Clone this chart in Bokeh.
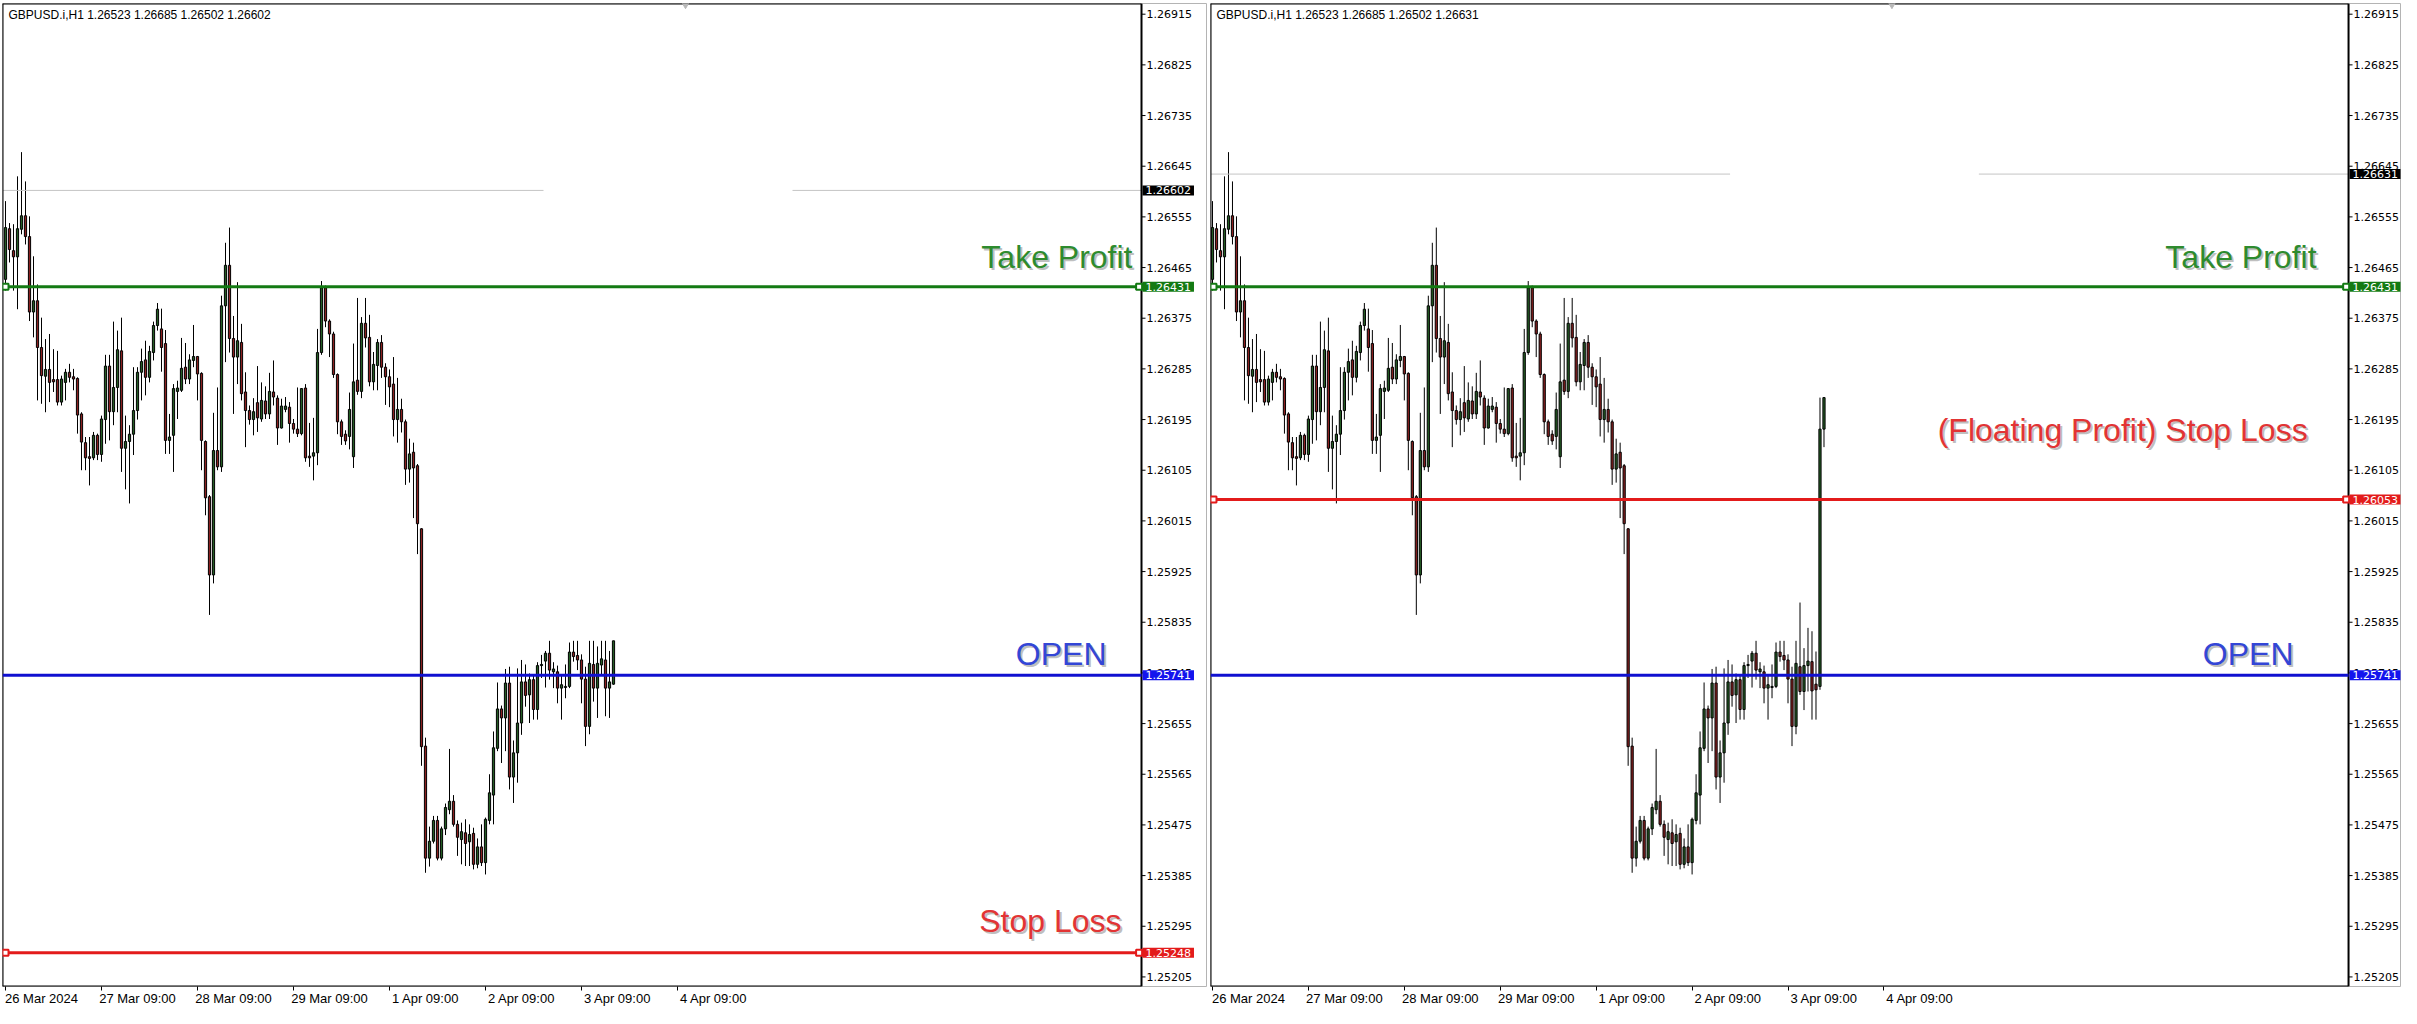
from bokeh.plotting import figure
from bokeh.models import (ColumnDataSource, FixedTicker, Label, Range1d, LinearAxis,
                          PrintfTickFormatter)
from bokeh.layouts import row
from bokeh.embed import file_html
from bokeh.resources import INLINE

# ---------------- data ----------------
symbol = "GBPUSD.i,H1"
header_left = ["1.26523", "1.26685", "1.26502", "1.26602"]
header_right = ["1.26523", "1.26685", "1.26502", "1.26631"]

x_tick_bars = [0, 24, 48, 72, 96, 120, 144, 168]
x_tick_labels = ["26 Mar 2024", "27 Mar 09:00", "28 Mar 09:00", "29 Mar 09:00",
                 "1 Apr 09:00", "2 Apr 09:00", "3 Apr 09:00", "4 Apr 09:00"]

y_ticks = [1.26915, 1.26825, 1.26735, 1.26645, 1.26555, 1.26465, 1.26375, 1.26285,
           1.26195, 1.26105, 1.26015, 1.25925, 1.25835, 1.25745, 1.25655, 1.25565,
           1.25475, 1.25385, 1.25295, 1.25205]

take_profit = 1.26431
open_price = 1.25741
stop_loss_left = 1.25248
stop_loss_right = 1.26053
bid_left = 1.26602
bid_right = 1.26631

open_ = [
    1.26444, 1.26534, 1.26495, 1.26484, 1.26533, 1.26557, 1.26520, 1.26386, 1.26406, 1.26323,
    1.26272, 1.26284, 1.26266, 1.26266, 1.26226, 1.26261, 1.26279, 1.26271, 1.26268, 1.26205,
    1.26154, 1.26129, 1.26127, 1.26167, 1.26133, 1.26195, 1.26290, 1.26209, 1.26252, 1.26317,
    1.26144, 1.26156, 1.26169, 1.26211, 1.26279, 1.26301, 1.26270, 1.26314, 1.26362, 1.26356,
    1.26330, 1.26158, 1.26167, 1.26245, 1.26247, 1.26288, 1.26267, 1.26300, 1.26307, 1.26277,
    1.26156, 1.26058, 1.25919, 1.26140, 1.26111, 1.26397, 1.26469, 1.26339, 1.26306, 1.26332,
    1.26244, 1.26211, 1.26195, 1.26225, 1.26196, 1.26228, 1.26205, 1.26244, 1.26233, 1.26180,
    1.26213, 1.26217, 1.26188, 1.26178, 1.26170, 1.26251, 1.26130, 1.26130, 1.26136, 1.26314,
    1.26429, 1.26370, 1.26347, 1.26275, 1.26191, 1.26169, 1.26165, 1.26129, 1.26265, 1.26245,
    1.26366, 1.26341, 1.26262, 1.26291, 1.26332, 1.26288, 1.26271, 1.26258, 1.26195, 1.26213,
    1.26191, 1.26107, 1.26137, 1.26113, 1.26001, 1.25615, 1.25416, 1.25446, 1.25483, 1.25416,
    1.25468, 1.25502, 1.25517, 1.25476, 1.25449, 1.25461, 1.25445, 1.25460, 1.25405, 1.25436,
    1.25408, 1.25483, 1.25528, 1.25611, 1.25681, 1.25665, 1.25727, 1.25560, 1.25603, 1.25656,
    1.25729, 1.25706, 1.25733, 1.25680, 1.25758, 1.25766, 1.25780, 1.25747, 1.25747, 1.25718,
    1.25719, 1.25721, 1.25782, 1.25776, 1.25768, 1.25734, 1.25650, 1.25760, 1.25718, 1.25759,
    1.25768, 1.25718, 1.25725]
high = [
    1.26583, 1.26544, 1.26542, 1.26627, 1.26670, 1.26618, 1.26556, 1.26485, 1.26435, 1.26376,
    1.26338, 1.26347, 1.26320, 1.26317, 1.26273, 1.26285, 1.26294, 1.26285, 1.26270, 1.26208,
    1.26164, 1.26164, 1.26173, 1.26170, 1.26202, 1.26310, 1.26310, 1.26369, 1.26353, 1.26376,
    1.26202, 1.26185, 1.26288, 1.26288, 1.26321, 1.26335, 1.26326, 1.26369, 1.26402, 1.26392,
    1.26354, 1.26205, 1.26258, 1.26264, 1.26340, 1.26331, 1.26311, 1.26363, 1.26308, 1.26279,
    1.26158, 1.26061, 1.26207, 1.26252, 1.26415, 1.26509, 1.26536, 1.26379, 1.26439, 1.26365,
    1.26279, 1.26220, 1.26233, 1.26290, 1.26261, 1.26254, 1.26278, 1.26300, 1.26238, 1.26232,
    1.26235, 1.26226, 1.26196, 1.26252, 1.26251, 1.26258, 1.26189, 1.26198, 1.26356, 1.26441,
    1.26433, 1.26373, 1.26351, 1.26277, 1.26195, 1.26176, 1.26243, 1.26330, 1.26411, 1.26377,
    1.26411, 1.26381, 1.26315, 1.26338, 1.26345, 1.26295, 1.26284, 1.26306, 1.26269, 1.26232,
    1.26195, 1.26161, 1.26154, 1.26116, 1.26002, 1.25630, 1.25472, 1.25491, 1.25491, 1.25472,
    1.25513, 1.25610, 1.25528, 1.25483, 1.25479, 1.25485, 1.25476, 1.25470, 1.25451, 1.25476,
    1.25488, 1.25565, 1.25641, 1.25728, 1.25687, 1.25752, 1.25756, 1.25625, 1.25753, 1.25768,
    1.25760, 1.25744, 1.25740, 1.25764, 1.25777, 1.25784, 1.25802, 1.25764, 1.25758, 1.25741,
    1.25760, 1.25799, 1.25802, 1.25802, 1.25778, 1.25756, 1.25802, 1.25802, 1.25792, 1.25802,
    1.25802, 1.25784, 1.25802]
low = [
    1.26424, 1.26474, 1.26424, 1.26391, 1.26524, 1.26506, 1.26370, 1.26341, 1.26229, 1.26223,
    1.26208, 1.26226, 1.26244, 1.26220, 1.26220, 1.26229, 1.26261, 1.26247, 1.26170, 1.26105,
    1.26105, 1.26078, 1.26123, 1.26123, 1.26120, 1.26152, 1.26158, 1.26185, 1.26208, 1.26102,
    1.26071, 1.26046, 1.26132, 1.26195, 1.26229, 1.26238, 1.26261, 1.26300, 1.26353, 1.26280,
    1.26134, 1.26134, 1.26102, 1.26196, 1.26244, 1.26258, 1.26258, 1.26288, 1.26229, 1.26105,
    1.26025, 1.25848, 1.25904, 1.26105, 1.26102, 1.26297, 1.26314, 1.26205, 1.26258, 1.26229,
    1.26146, 1.26186, 1.26167, 1.26173, 1.26191, 1.26196, 1.26196, 1.26220, 1.26150, 1.26179,
    1.26208, 1.26154, 1.26170, 1.26164, 1.26167, 1.26120, 1.26111, 1.26087, 1.26114, 1.26310,
    1.26359, 1.26306, 1.26269, 1.26169, 1.26150, 1.26150, 1.26142, 1.26109, 1.26239, 1.26233,
    1.26323, 1.26254, 1.26247, 1.26247, 1.26269, 1.26221, 1.26217, 1.26165, 1.26154, 1.26172,
    1.26079, 1.26083, 1.26020, 1.25956, 1.25580, 1.25390, 1.25401, 1.25442, 1.25412, 1.25412,
    1.25457, 1.25494, 1.25472, 1.25420, 1.25405, 1.25402, 1.25402, 1.25396, 1.25398, 1.25402,
    1.25387, 1.25476, 1.25476, 1.25606, 1.25585, 1.25606, 1.25538, 1.25514, 1.25550, 1.25635,
    1.25685, 1.25656, 1.25662, 1.25662, 1.25736, 1.25719, 1.25733, 1.25718, 1.25691, 1.25662,
    1.25700, 1.25718, 1.25765, 1.25750, 1.25691, 1.25615, 1.25636, 1.25694, 1.25665, 1.25741,
    1.25668, 1.25665, 1.25724]
close = [
    1.26536, 1.26497, 1.26484, 1.26534, 1.26557, 1.26520, 1.26386, 1.26406, 1.26323, 1.26273,
    1.26284, 1.26261, 1.26262, 1.26226, 1.26267, 1.26279, 1.26270, 1.26267, 1.26203, 1.26155,
    1.26127, 1.26126, 1.26167, 1.26133, 1.26196, 1.26290, 1.26209, 1.26252, 1.26319, 1.26144,
    1.26156, 1.26169, 1.26211, 1.26279, 1.26298, 1.26270, 1.26316, 1.26362, 1.26391, 1.26323,
    1.26158, 1.26164, 1.26250, 1.26251, 1.26286, 1.26267, 1.26301, 1.26307, 1.26276, 1.26158,
    1.26056, 1.25919, 1.26140, 1.26111, 1.26397, 1.26469, 1.26339, 1.26306, 1.26335, 1.26241,
    1.26211, 1.26195, 1.26209, 1.26198, 1.26229, 1.26205, 1.26245, 1.26235, 1.26180, 1.26219,
    1.26219, 1.26188, 1.26178, 1.26170, 1.26250, 1.26127, 1.26127, 1.26136, 1.26314, 1.26429,
    1.26370, 1.26347, 1.26275, 1.26191, 1.26165, 1.26157, 1.26213, 1.26262, 1.26245, 1.26366,
    1.26340, 1.26262, 1.26293, 1.26332, 1.26288, 1.26271, 1.26253, 1.26195, 1.26213, 1.26191,
    1.26107, 1.26134, 1.26109, 1.26010, 1.25614, 1.25416, 1.25446, 1.25483, 1.25416, 1.25468,
    1.25506, 1.25517, 1.25476, 1.25453, 1.25463, 1.25442, 1.25458, 1.25405, 1.25436, 1.25408,
    1.25485, 1.25532, 1.25612, 1.25681, 1.25665, 1.25727, 1.25560, 1.25603, 1.25656, 1.25729,
    1.25705, 1.25733, 1.25680, 1.25758, 1.25760, 1.25780, 1.25750, 1.25752, 1.25718, 1.25724,
    1.25721, 1.25782, 1.25774, 1.25768, 1.25734, 1.25650, 1.25762, 1.25718, 1.25762, 1.25770,
    1.25718, 1.25729, 1.25802]

# right chart: same history, then the later bars including the rally
right_common_bars = 147
right_tail_open = [1.25756, 1.25712, 1.25758, 1.25765, 1.25725, 1.25721, 1.26178]
right_tail_high = [1.25870, 1.25789, 1.25825, 1.25819, 1.25783, 1.26234, 1.26234]
right_tail_low = [1.25706, 1.25679, 1.25712, 1.25662, 1.25662, 1.25715, 1.26146]
right_tail_close = [1.25712, 1.25758, 1.25766, 1.25713, 1.25715, 1.26178, 1.26234]

bid_gap_left = [134.5, 196.75]
bid_gap_right = [129.5, 191.75]
shift_marker_bar = 170

# ---------------- style ----------------
BULL = "#245c24"
BEAR = "#8a2020"
TP_COL = "#137a13"
OPEN_COL = "#1010d0"
SL_COL = "#e31b1b"
Y_START, Y_END = 1.25188, 1.26934
BAR_PX = 4.0
CHART_PX = 1139
LABEL_SHIFT = 9


def make_panel(o, h, l, c, width, border_left, x0, bid, bid_gap, header, sl, texts):
    frame_w = width - border_left
    x1 = x0 + frame_w / BAR_PX
    xc = x0 + CHART_PX / BAR_PX
    p = figure(width=width, height=1008, output_backend="svg", toolbar_location=None,
               x_range=Range1d(x0, x1), y_range=Range1d(Y_START, Y_END),
               y_axis_location="right", min_border_left=border_left,
               min_border_right=0, min_border_top=3, min_border_bottom=20,
               background_fill_color="white", border_fill_color="white")
    p.grid.visible = False
    p.outline_line_color = "#b4b4b4"
    p.outline_line_width = 1

    idx = list(range(len(o)))
    src = ColumnDataSource(dict(
        x=idx, high=h, low=l,
        top=[max(a, b) for a, b in zip(o, c)],
        bottom=[min(a, b) for a, b in zip(o, c)],
        color=[BULL if ci >= oi else BEAR for oi, ci in zip(o, c)]))
    p.segment(x0="x", y0="high", x1="x", y1="low", source=src, line_color="black",
              line_width=1)
    p.vbar(x="x", width=0.55, top="top", bottom="bottom", source=src,
           fill_color="color", line_color="black", line_width=1)

    # bid line (with gap)
    p.segment(x0=[x0, bid_gap[1]], y0=[bid, bid], x1=[bid_gap[0], xc], y1=[bid, bid],
              line_color="#c4c4c4", line_width=1)

    # chart border (the right part of the frame holds the price scale)
    p.segment(x0=[x0, x0, x0, xc], y0=[Y_START, Y_END, Y_START, Y_START],
              x1=[xc, xc, x0, xc], y1=[Y_START, Y_END, Y_END, Y_END],
              line_color="black", line_width=2)
    # price scale tick marks
    p.segment(x0=[xc] * len(y_ticks), y0=y_ticks, x1=[xc + 1] * len(y_ticks), y1=y_ticks,
              line_color="black", line_width=1)

    # shift marker
    p.scatter(x=[shift_marker_bar], y=[Y_END], marker="inverted_triangle", size=9,
              fill_color="#b8b8b8", line_color="#b8b8b8")

    # order levels
    levels = [take_profit, open_price, sl]
    p.segment(x0=[x0] * 3, y0=levels, x1=[xc] * 3, y1=levels,
              line_color=[TP_COL, OPEN_COL, SL_COL], line_width=3)
    # level handles at both ends of TP / SL
    p.scatter(x=[x0 + 0.75, xc - 0.6, x0 + 0.75, xc - 0.6],
              y=[take_profit, take_profit, sl, sl], marker="square", size=6,
              fill_color="white", line_color=[TP_COL, TP_COL, SL_COL, SL_COL],
              line_width=2)

    # price tags on the scale
    for price, col in [(bid, "black"), (take_profit, TP_COL), (open_price, "#1414ee"),
                       (sl, SL_COL)]:
        p.add_layout(Label(x=xc, y=price, x_offset=1, text=f"{price:.5f}",
                           text_align="left", text_baseline="middle",
                           text_color="white", text_font="DejaVu Sans",
                           text_font_size="11px", background_fill_color=col,
                           padding=dict(left=3, right=3, top=1, bottom=1)))

    # header
    p.add_layout(Label(x=x0, y=Y_END, x_offset=6, y_offset=-11,
                       text=symbol + "  " + " ".join(header),
                       text_baseline="middle", text_align="left",
                       text_font="Liberation Sans", text_font_size="12px",
                       text_color="black"))

    # annotation texts (with a soft shadow)
    for txt, price, xo, yo, col in texts:
        p.add_layout(Label(x=xc, y=price, x_offset=xo + 2, y_offset=yo - 2, text=txt,
                           text_align="right", text_baseline="middle",
                           text_font="Liberation Sans", text_font_size="32px",
                           text_color="#808080", text_alpha=0.5))
        p.add_layout(Label(x=xc, y=price, x_offset=xo, y_offset=yo, text=txt,
                           text_align="right", text_baseline="middle",
                           text_font="Liberation Sans", text_font_size="32px",
                           text_color=col))

    ya = p.yaxis[0]
    ya.ticker = FixedTicker(ticks=y_ticks)
    ya.formatter = PrintfTickFormatter(format="%.5f")
    ya.axis_line_color = None
    ya.major_tick_in = 0
    ya.major_tick_out = 0
    ya.minor_tick_line_color = None
    ya.major_tick_line_color = None
    ya.major_label_standoff = -int(frame_w - CHART_PX - 5)
    ya.major_label_text_font = "DejaVu Sans"
    ya.major_label_text_font_size = "11px"
    ya.major_label_text_color = "black"

    # tick marks of the time scale
    xa = p.xaxis[0]
    xa.ticker = FixedTicker(ticks=x_tick_bars)
    xa.major_label_overrides = {b: "" for b in x_tick_bars}
    xa.major_label_text_font_size = "1px"
    xa.major_label_standoff = 0
    xa.axis_line_color = None
    xa.major_tick_in = 0
    xa.major_tick_out = 4
    xa.minor_tick_line_color = None

    # time labels, left-aligned to their tick
    label_pos = [b + LABEL_SHIFT for b in x_tick_bars]
    xb = LinearAxis(ticker=FixedTicker(ticks=label_pos),
                    major_label_overrides={q: t for q, t in zip(label_pos, x_tick_labels)},
                    axis_line_color=None, major_tick_line_color=None,
                    minor_tick_line_color=None, major_tick_in=0, major_tick_out=0,
                    major_label_standoff=0, major_label_text_font="Liberation Sans",
                    major_label_text_font_size="13px", major_label_text_color="black")
    p.add_layout(xb, "below")
    return p


left_texts = [("Take Profit", take_profit, -9, 30, "#2e8b2e"),
              ("OPEN", open_price, -35, 21, "#3346d6"),
              ("Stop Loss", stop_loss_left, -20, 32, "#e23434")]
right_texts = [("Take Profit", take_profit, -32, 30, "#2e8b2e"),
               ("(Floating Profit)  Stop Loss", stop_loss_right, -32, 70, "#e23434"),
               ("OPEN", open_price, -55, 21, "#3346d6")]

p1 = make_panel(open_, high, low, close, 1207, 2, -0.75, bid_left, bid_gap_left,
                header_left, stop_loss_left, left_texts)

r_open = open_[:right_common_bars] + right_tail_open
r_high = high[:right_common_bars] + right_tail_high
r_low = low[:right_common_bars] + right_tail_low
r_close = close[:right_common_bars] + right_tail_close
p2 = make_panel(r_open, r_high, r_low, r_close, 1194, 3, -0.5, bid_right, bid_gap_right,
                header_right, stop_loss_right, right_texts)

layout = row(p1, p2)
open("out.html", "w").write(file_html(layout, INLINE))
